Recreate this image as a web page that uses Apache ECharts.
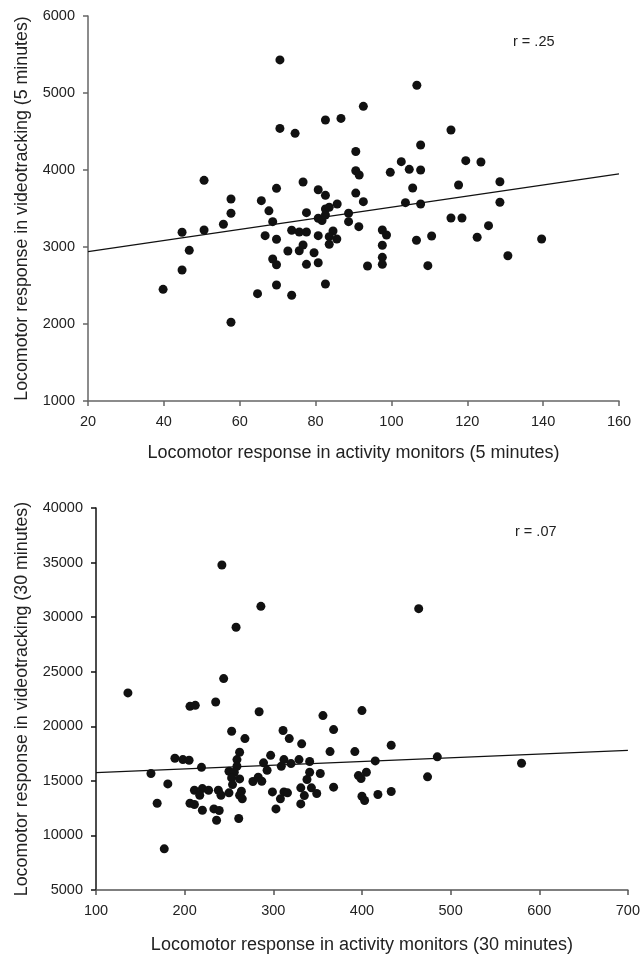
<!DOCTYPE html>
<html>
<head>
<meta charset="utf-8">
<script src="https://cdn.jsdelivr.net/npm/echarts@6/dist/echarts.min.js"></script>
<style>
html,body{margin:0;padding:0;background:#fff;}
#chart{width:643px;height:956px;}
</style>
</head>
<body>
<div id="chart"></div>
<script>
// ---- Top panel (5 minutes) ----
var topX = [39.8,44.8,44.8,46.7,50.6,50.6,55.7,57.7,57.7,57.7,
  64.7,65.7,66.7,67.7,68.7,68.7,69.7,69.7,69.7,69.7,
  70.6,70.6,72.7,73.7,73.7,74.6,75.7,75.7,76.7,76.7,
  77.6,77.6,77.6,79.6,80.7,80.7,80.7,80.7,81.7,82.6,
  82.6,82.6,82.6,83.6,82.6,84.6,83.6,83.6,85.6,85.7,
  86.7,88.7,88.7,90.6,90.6,91.5,90.6,91.4,92.6,92.6,
  93.7,97.6,98.7,97.6,97.6,97.6,99.7,102.6,103.7,104.7,
  105.6,106.7,106.6,107.7,107.7,107.7,109.6,110.6,115.7,115.7,
  117.7,118.6,119.6,122.6,123.6,125.6,128.6,128.6,130.7,139.6];
var topY = [2450,2701,3191,2957,3866,3221,3295,3623,3438,2022,
  2394,3602,3147,3470,3329,2844,3762,3100,2770,2506,
  5430,4540,2948,3217,2373,4476,3195,2952,3844,3026,
  3446,3195,2775,2926,3744,3373,3147,2796,3343,4650,
  3671,3416,3494,3516,2519,3208,3134,3035,3104,3558,
  4670,3438,3329,4240,3990,3935,3700,3264,4827,3589,
  2753,3221,3156,3022,2866,2775,3970,4108,3576,4009,
  3766,5100,3087,4325,4000,3558,2758,3143,4519,3377,
  3805,3377,4121,3126,4104,3277,3848,3581,2887,3104];
var topFitX = [20, 160];
var topFitY = [2940, 3950];
var topR = 'r = .25';
var topXName = 'Locomotor response in activity monitors (5 minutes)';
var topYName = 'Locomotor response in videotracking (5 minutes)';
var topXTicks = {min: 20, max: 160, interval: 20};
var topYTicks = {min: 1000, max: 6000, interval: 1000};

// ---- Bottom panel (30 minutes) ----
var botX = [242,286,258,244,136,206,212,235,284,253,
  268,262,259,189,198,205,259,219,250,256,
  162,253,262,254,181,277,211,220,227,217,
  238,241,250,264,262,265,169,206,211,220,
  233,239,236,261,177,464,356,400,311,368,
  318,332,433,297,364,392,485,289,312,329,
  341,415,309,320,293,341,353,405,396,399,
  474,338,283,287,299,312,316,331,343,349,
  335,368,308,400,403,418,433,331,303,580];
var botY = [34780,30990,29070,24370,23060,21830,21920,22220,21330,19540,
  18870,17620,16950,17070,16950,16890,16340,16240,15880,15790,
  15670,15270,15180,14660,14720,14940,14140,14290,14140,13680,
  14140,13680,13900,14050,13680,13350,12950,12950,12830,12310,
  12430,12280,11390,11550,8770,30780,20980,21440,19610,19700,
  18870,18390,18260,17340,17680,17680,17200,16650,16950,16950,
  16770,16830,16340,16580,15970,15790,15670,15790,15480,15210,
  15370,15120,15340,14960,13990,13990,13900,14360,14360,13840,
  13650,14420,13350,13590,13200,13750,14020,12890,12430,16610];
var botFitX = [100, 700];
var botFitY = [15750, 17800];
var botR = 'r = .07';
var botXName = 'Locomotor response in activity monitors (30 minutes)';
var botYName = 'Locomotor response in videotracking (30 minutes)';
var botXTicks = {min: 100, max: 700, interval: 100};
var botYTicks = {min: 5000, max: 40000, interval: 5000};

function pairs(xs, ys){ return xs.map(function(x,i){ return [x, ys[i]]; }); }

var FONT = '"Liberation Sans", Arial, Helvetica, sans-serif';
var TXT = '#222';
function plain(v){ return String(v); }

function xAxis(idx, t, name, gap, lineColor){
  return {
    type:'value', gridIndex: idx, min:t.min, max:t.max, interval:t.interval,
    name: name, nameLocation:'middle', nameGap: gap,
    nameTextStyle:{fontFamily:FONT, fontSize:18, color:TXT},
    axisLine:{show:true, onZero:false, lineStyle:{color:lineColor, width:1.5}},
    axisTick:{show:true, length:5, inside:false, lineStyle:{color:lineColor, width:1.5}},
    axisLabel:{fontFamily:FONT, fontSize:14.5, color:TXT, margin:13, formatter:plain},
    splitLine:{show:false}
  };
}
function yAxis(idx, t, name, gap, lineColor){
  return {
    type:'value', gridIndex: idx, min:t.min, max:t.max, interval:t.interval,
    name: name, nameLocation:'middle', nameGap: gap,
    nameTextStyle:{fontFamily:FONT, fontSize:17.8, color:TXT},
    axisLine:{show:true, onZero:false, lineStyle:{color:lineColor, width:1.5}},
    axisTick:{show:true, length:5, inside:false, lineStyle:{color:lineColor, width:1.5}},
    axisLabel:{fontFamily:FONT, fontSize:14.5, color:TXT, margin:13, formatter:plain},
    splitLine:{show:false}
  };
}

var chart = echarts.init(document.getElementById('chart'), null, {renderer:'canvas'});
chart.setOption({
  animation:false,
  backgroundColor:'#fff',
  grid:[
    {left:88, top:16, width:531, height:385},
    {left:96, top:508, width:532, height:382}
  ],
  xAxis:[
    xAxis(0, topXTicks, topXName, 43, '#666'),
    xAxis(1, botXTicks, botXName, 46, '#555')
  ],
  yAxis:[
    yAxis(0, topYTicks, topYName, 57, '#666'),
    yAxis(1, botYTicks, botYName, 65, '#111')
  ],
  graphic:[
    {type:'text', left:513, top:34, style:{text:topR, font:'14.5px '+FONT, fill:TXT}},
    {type:'text', left:515, top:524, style:{text:botR, font:'14.5px '+FONT, fill:TXT}}
  ],
  series:[
    {type:'scatter', xAxisIndex:0, yAxisIndex:0, symbol:'circle', symbolSize:9,
     itemStyle:{color:'#111', opacity:1}, data:pairs(topX, topY), z:3},
    {type:'line', xAxisIndex:0, yAxisIndex:0, symbol:'none',
     lineStyle:{color:'#111', width:1.2}, data:pairs(topFitX, topFitY), z:2},
    {type:'scatter', xAxisIndex:1, yAxisIndex:1, symbol:'circle', symbolSize:9,
     itemStyle:{color:'#111', opacity:1}, data:pairs(botX, botY), z:3},
    {type:'line', xAxisIndex:1, yAxisIndex:1, symbol:'none',
     lineStyle:{color:'#111', width:1.2}, data:pairs(botFitX, botFitY), z:2}
  ]
});
</script>
</body>
</html>
